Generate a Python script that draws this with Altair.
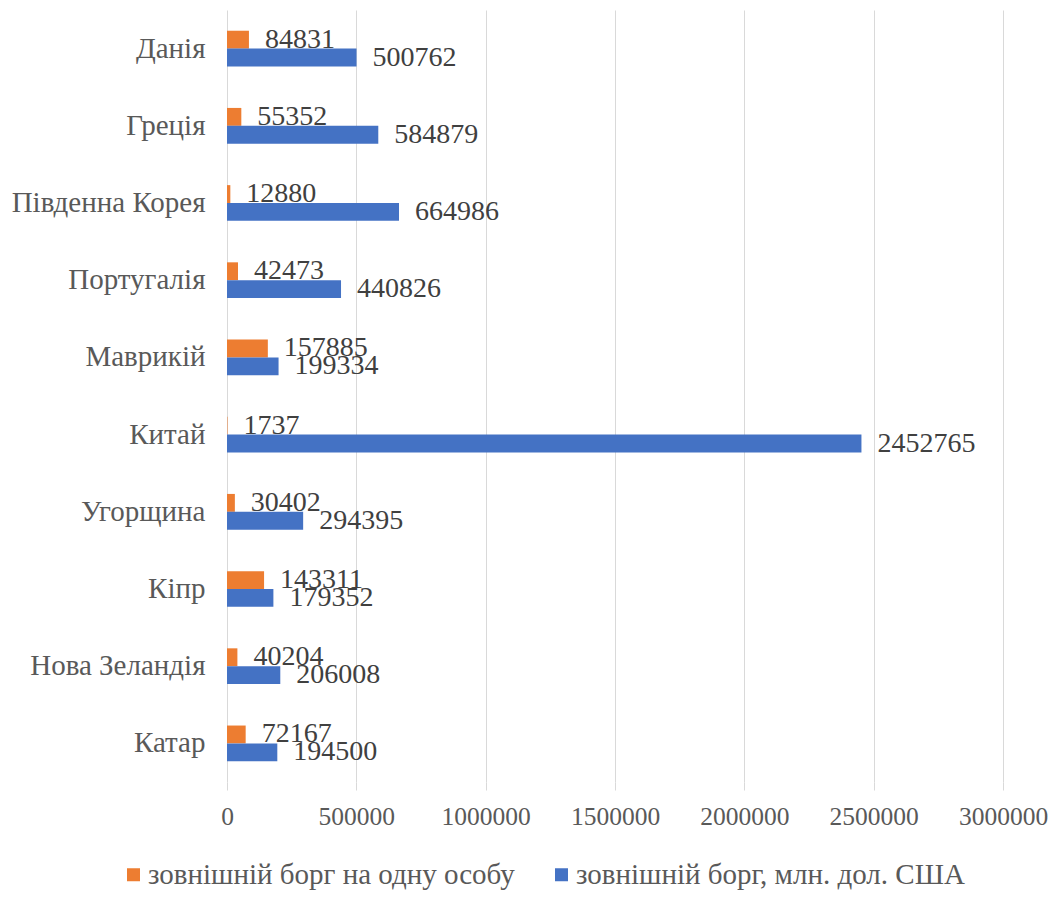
import altair as alt
import pandas as pd

countries = ["Данія", "Греція", "Південна Корея", "Португалія", "Маврикій",
             "Китай", "Угорщина", "Кіпр", "Нова Зеландія", "Катар"]
per_capita = [84831, 55352, 12880, 42473, 157885, 1737, 30402, 143311, 40204, 72167]
total_debt = [500762, 584879, 664986, 440826, 199334, 2452765, 294395, 179352, 206008, 194500]
series = ["зовнішній борг на одну особу", "зовнішній борг, млн. дол. США"]
colors = ["#ED7D31", "#4472C4"]
x_ticks = [0, 500000, 1000000, 1500000, 2000000, 2500000, 3000000]

rows = []
for c, a, b in zip(countries, per_capita, total_debt):
    rows.append({"country": c, "series": series[0], "value": a})
    rows.append({"country": c, "series": series[1], "value": b})
df = pd.DataFrame(rows)

FONT = "Liberation Serif"

base = alt.Chart(df).encode(
    y=alt.Y("country:N", sort=countries,
            scale=alt.Scale(paddingInner=0.537, paddingOuter=0.2685),
            axis=alt.Axis(title=None, ticks=False, domain=False, labelFont=FONT,
                          labelFontSize=29, labelColor="#595959", labelPadding=22,
                          minExtent=219, maxExtent=219, labelLimit=300)),
    yOffset=alt.YOffset("series:N", sort=series, scale=alt.Scale(paddingInner=0, paddingOuter=0)),
)

bars = base.mark_bar().encode(
    x=alt.X("value:Q", scale=alt.Scale(domain=[0, 3000000], nice=False),
            axis=alt.Axis(title=None, values=x_ticks, format="d", grid=True,
                          gridColor="#d9d9d9", gridWidth=1, domain=False,
                          ticks=True, tickSize=8, tickColor="#d9d9d9",
                          labelFont=FONT, labelFontSize=25.5, labelColor="#595959",
                          labelPadding=14, labelOverlap=False, labelBound=False,
                          labelFlush=False)),
    color=alt.Color("series:N", sort=series,
                    scale=alt.Scale(domain=series, range=colors),
                    legend=alt.Legend(title=None, orient="none", direction="horizontal",
                                      legendX=-108, legendY=850,
                                      symbolType="square", symbolSize=169,
                                      symbolStrokeWidth=0, labelFont=FONT,
                                      labelFontSize=29, labelColor="#595959",
                                      labelOffset=0, columnPadding=32,
                                      labelLimit=500)),
)

labels = base.mark_text(align="left", baseline="middle", dx=16, font=FONT,
                        fontSize=28, color="#404040").encode(
    x=alt.X("value:Q"),
    text=alt.Text("value:Q", format="d"),
)

chart = (bars + labels).properties(
    width=776, height=772,
    padding={"left": 0, "top": 2, "right": 0, "bottom": 0},
).configure_view(stroke=None)

chart.save("out.html", embed_options={"renderer": "svg", "actions": False})
